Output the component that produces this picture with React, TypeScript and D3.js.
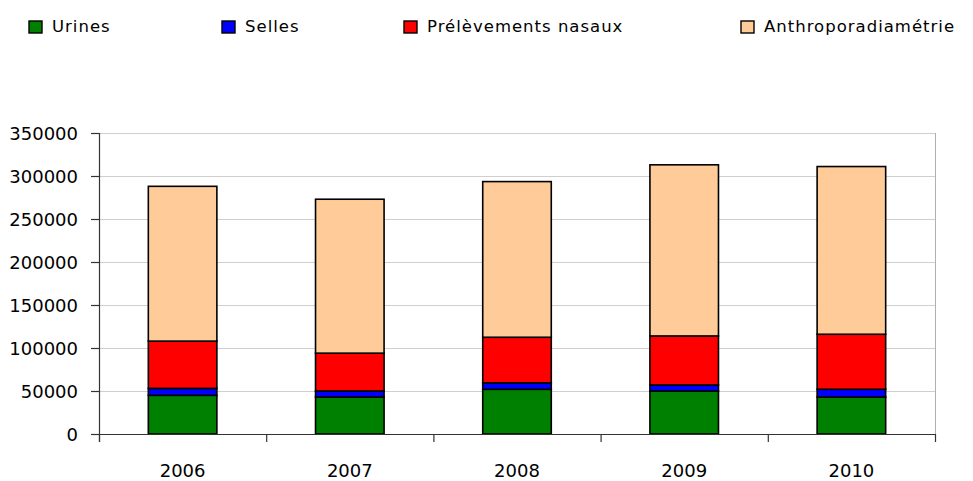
import React from "react";
import * as d3 from "d3";

const years = ["2006", "2007", "2008", "2009", "2010"];
const seriesNames = ["Urines", "Selles", "Prélèvements nasaux", "Anthroporadiamétrie"];
const urines = [45000, 43000, 52000, 50000, 43000];
const selles = [8000, 7000, 7500, 7000, 9000];
const prelevements = [55000, 44000, 53000, 57000, 64000];
const anthro = [180000, 179000, 181000, 199000, 195000];
const yTicks = [0, 50000, 100000, 150000, 200000, 250000, 300000, 350000];
const colors = ["#008000", "#0000FF", "#FF0000", "#FFCC99"];
const legendX = [29, 222, 404, 741];

const W = 973;
const H = 481;
const margin = { left: 99, right: 38, top: 133, bottom: 47 };

export default function App() {
  const keys = ["u", "s", "p", "a"];
  const rows = years.map((y, i) => ({
    year: y,
    u: urines[i],
    s: selles[i],
    p: prelevements[i],
    a: anthro[i],
  }));
  const stack = d3.stack<any>().keys(keys)(rows);
  const x = d3
    .scaleBand()
    .domain(years)
    .range([margin.left, W - margin.right])
    .paddingInner(0.59)
    .paddingOuter(0.295);
  const y = d3
    .scaleLinear()
    .domain([0, 350000])
    .range([H - margin.bottom, margin.top]);
  const step = x.step();
  const x0 = margin.left;
  const x1 = W - margin.right;
  const font = "'DejaVu Sans', Verdana, sans-serif";

  return (
    <svg
      width={W}
      height={H}
      style={{ position: "absolute", left: 0, top: 0, background: "#fff" }}
    >
      {/* gridlines */}
      {yTicks.map((t) => (
        <line
          key={"g" + t}
          x1={x0}
          x2={x1}
          y1={Math.round(y(t)) + 0.5}
          y2={Math.round(y(t)) + 0.5}
          stroke="#cfcfcf"
          strokeWidth={1}
        />
      ))}
      {/* right border */}
      <line
        x1={x1 + 0.5}
        x2={x1 + 0.5}
        y1={y(350000)}
        y2={y(0)}
        stroke="#b0b0b0"
        strokeWidth={1}
      />
      {/* bars */}
      {stack.map((layer, li) =>
        layer.map((d, i) => (
          <rect
            key={li + "-" + i}
            x={x(years[i])!}
            y={y(d[1])}
            width={x.bandwidth()}
            height={y(d[0]) - y(d[1])}
            fill={colors[li]}
            stroke="#000"
            strokeWidth={1.6}
          />
        ))
      )}
      {/* y axis */}
      <line
        x1={x0 + 0.5}
        x2={x0 + 0.5}
        y1={y(350000)}
        y2={y(0) + 8}
        stroke="#333"
        strokeWidth={1.2}
      />
      {yTicks.map((t) => (
        <g key={"t" + t}>
          <line
            x1={x0 - 8}
            x2={x0}
            y1={Math.round(y(t)) + 0.5}
            y2={Math.round(y(t)) + 0.5}
            stroke="#333"
            strokeWidth={1.2}
          />
          <text
            x={x0 - 21}
            y={y(t) + 6.5}
            textAnchor="end"
            fontFamily={font}
            fontSize={18}
            fill="#000"
          >
            {t}
          </text>
        </g>
      ))}
      {/* x axis */}
      <line
        x1={x0}
        x2={x1}
        y1={Math.round(y(0)) + 0.5}
        y2={Math.round(y(0)) + 0.5}
        stroke="#333"
        strokeWidth={1.2}
      />
      {d3.range(years.length + 1).map((k) => (
        <line
          key={"xt" + k}
          x1={x0 + k * step + 0.5}
          x2={x0 + k * step + 0.5}
          y1={y(0)}
          y2={y(0) + 8}
          stroke="#333"
          strokeWidth={1.2}
        />
      ))}
      {years.map((yr) => (
        <text
          key={"xl" + yr}
          x={x(yr)! + x.bandwidth() / 2}
          y={477}
          textAnchor="middle"
          fontFamily={font}
          fontSize={18}
          fill="#000"
        >
          {yr}
        </text>
      ))}
      {/* legend */}
      {seriesNames.map((n, i) => (
        <g key={"l" + n}>
          <rect
            x={legendX[i]}
            y={21}
            width={13}
            height={12}
            fill={colors[i]}
            stroke="#000"
            strokeWidth={1.4}
          />
          <text
            x={legendX[i] + 23}
            y={32}
            fontFamily={font}
            fontSize={16.5}
            letterSpacing={1}
            fill="#000"
          >
            {n}
          </text>
        </g>
      ))}
    </svg>
  );
}
